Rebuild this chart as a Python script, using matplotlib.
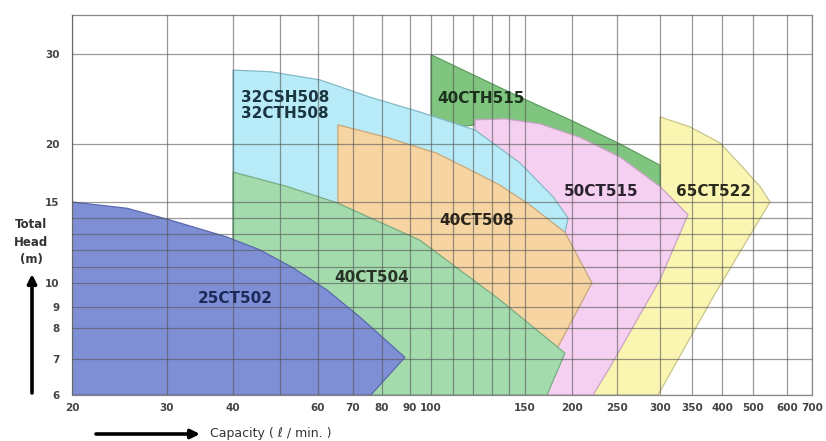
import numpy as np
import matplotlib
matplotlib.use("Agg")
import matplotlib.pyplot as plt

# ---------------- data ----------------
# 25CT502
Q_25CT502 = [20, 25.3, 30.4, 39.0, 45.5, 53.2, 62.4, 72.3, 88.1, 76.0, 20]
H_25CT502 = [15, 14.6, 13.87, 12.8, 12.0, 10.95, 9.7, 8.5, 7.05, 6, 6]
# 40CT504
Q_40CT504 = [40, 51.7, 65.2, 94.6, 134.7, 191.6, 171.6, 40]
H_40CT504 = [17.4, 16.2, 14.95, 12.6, 9.28, 7.18, 6, 6]
# 32CSH508 / 32CTH508
Q_32CSH508 = [40, 47.7, 60.5, 75.7, 94.6, 120.9, 146.8, 178, 195.2, 191.6, 185.9, 146.8, 40]
H_32CSH508 = [27.9, 27.7, 26.7, 24.7, 23.1, 21.3, 18.2, 15.4, 14.0, 13.1, 9.28, 6, 6]
# 40CT508
Q_40CT508 = [65.5, 81.7, 102.6, 118.3, 134.7, 154.7, 191.6, 220.8, 185.9, 154.7, 65.5]
H_40CT508 = [21.8, 20.6, 19.1, 17.6, 16.3, 14.8, 13.1, 10.0, 7.5, 6, 6]
# 40CTH515
Q_40CTH515 = [100, 118.3, 146.8, 197.5, 253.2, 300, 300, 253.2, 208.1, 164.4, 137.6, 120.9, 100]
H_40CTH515 = [29.9, 27.5, 24.7, 22.3, 20.0, 18.0, 16.2, 18.4, 20.3, 21.6, 22.1, 21.8, 21.3]
# 50CT515
Q_50CT515 = [120.9, 137.6, 164.4, 208.1, 253.2, 300, 343.3, 300, 241.4, 222, 120.9]
H_50CT515 = [22.3, 22.4, 21.9, 20.6, 18.75, 16.2, 14.2, 10.2, 6.76, 6, 6]
# 65CT522
Q_65CT522 = [300, 346.6, 396.4, 465.2, 519.1, 547.7, 478.9, 384.4, 297.5, 200, 300]
H_65CT522 = [22.6, 21.6, 20.1, 17.8, 16.2, 15.0, 12.6, 9.4, 6, 6, 16.2]

LABELS = ["25CT502", "40CT504", "40CT508", "32CSH508\n32CTH508", "40CTH515", "50CT515", "65CT522"]
LABEL_Q = [40.4, 76.4, 121.9, 51.2, 124.1, 230.9, 384.4]
LABEL_H = [9.36, 10.36, 13.87, 23.8, 24.5, 15.8, 15.8]

X_TICKS = [20, 30, 40, 60, 70, 80, 90, 100, 150, 200, 250, 300, 350, 400, 500, 600, 700]
X_MINOR = [50, 110, 120, 130, 140]
Y_TICKS = [6, 7, 8, 9, 10, 15, 20, 30]
Y_MINOR = [11, 12, 13, 14]

# ---------------- hand-drawn (piecewise logarithmic) scale ----------------
X_SCALE_VALUES = [20, 30, 40, 50, 60, 70, 80, 90, 100, 150, 200, 250, 300, 350, 400, 500, 600, 700]
X_SCALE_POS = [0, 95, 161, 208, 246, 281, 310, 338, 359, 453, 500, 545, 588, 620, 650, 681, 715, 740]
Y_SCALE_VALUES = [6, 7, 8, 9, 10, 11, 12, 13, 14, 15, 20, 30, 35.8]
Y_SCALE_POS = [0, 36, 67, 88, 112, 128, 145, 161, 177, 193, 251, 341, 380]


def make_scale(vals, pos):
    lv = np.log(np.asarray(vals, float))
    p = np.asarray(pos, float)
    s0 = (p[1] - p[0]) / (lv[1] - lv[0])
    s1 = (p[-1] - p[-2]) / (lv[-1] - lv[-2])

    def fwd(v):
        v = np.asarray(v, float)
        l = np.log(np.clip(v, 1e-9, None))
        out = np.interp(l, lv, p)
        out = np.where(l < lv[0], p[0] + (l - lv[0]) * s0, out)
        out = np.where(l > lv[-1], p[-1] + (l - lv[-1]) * s1, out)
        return out

    def inv(q):
        q = np.asarray(q, float)
        out = np.interp(q, p, lv)
        out = np.where(q < p[0], lv[0] + (q - p[0]) / s0, out)
        out = np.where(q > p[-1], lv[-1] + (q - p[-1]) / s1, out)
        return np.exp(out)

    return fwd, inv


W, H = 826, 441
fig = plt.figure(figsize=(W / 100, H / 100), dpi=100)
ax = fig.add_axes([72 / W, (H - 395) / H, 740 / W, 380 / H])
ax.set_xscale("function", functions=make_scale(X_SCALE_VALUES, X_SCALE_POS))
ax.set_yscale("function", functions=make_scale(Y_SCALE_VALUES, Y_SCALE_POS))
ax.set_xlim(20, 700)
ax.set_ylim(6, 35.8)

regions = [
    (Q_65CT522, H_65CT522, "#faf6b2", "#c9c48a"),
    (Q_40CTH515, H_40CTH515, "#7fc57f", "#5f9f60"),
    (Q_50CT515, H_50CT515, "#f5d0f0", "#c9a3c5"),
    (Q_32CSH508, H_32CSH508, "#b7ebf8", "#86b9c6"),
    (Q_40CT508, H_40CT508, "#f7d5a3", "#c7a77a"),
    (Q_40CT504, H_40CT504, "#a4dbad", "#79ad83"),
    (Q_25CT502, H_25CT502, "#7e8fd5", "#5a6aad"),
]
for i, (q, h, fc, ec) in enumerate(regions):
    ax.fill(q, h, facecolor=fc, edgecolor=ec, linewidth=0.9, zorder=1 + i * 0.01)

label_colors = ["#1c2858", "#263226", "#2b2619", "#1b3540", "#1b311c", "#2b2330", "#2b2a1e"]
for txt, q, h, c in zip(LABELS, LABEL_Q, LABEL_H, label_colors):
    ax.text(q, h, txt, ha="center", va="center", fontsize=11, fontweight="bold",
            color=c, family="DejaVu Sans", zorder=5, linespacing=1.1)

ax.set_xticks(X_TICKS, [str(v) for v in X_TICKS])
ax.set_xticks(X_MINOR, minor=True)
ax.set_yticks(Y_TICKS, [str(v) for v in Y_TICKS])
ax.set_yticks(Y_MINOR, minor=True)
ax.xaxis.set_minor_formatter(matplotlib.ticker.NullFormatter())
ax.yaxis.set_minor_formatter(matplotlib.ticker.NullFormatter())
ax.tick_params(which="both", length=0)
ax.tick_params(axis="x", pad=6, labelsize=7.5, labelcolor="#444444")
ax.tick_params(axis="y", pad=9, labelsize=7.5, labelcolor="#444444")
for lab in ax.get_xticklabels() + ax.get_yticklabels():
    lab.set_fontweight("bold")

ax.set_axisbelow(False)
ax.grid(True, which="both", color="#555555", alpha=0.6, linewidth=0.9, zorder=3)
for s in ax.spines.values():
    s.set_color("#888888")
    s.set_linewidth(0.9)

# y-axis title and arrow
fig.text(31 / W, 1 - 242 / H, "Total\nHead\n(m)", ha="center", va="center", fontsize=8.5,
         fontweight="bold", color="#333333", linespacing=1.45)
ax.annotate("", xy=(32, H - 274), xytext=(32, H - 393), xycoords="figure pixels",
            textcoords="figure pixels",
            arrowprops=dict(arrowstyle="-|>", lw=2.6, color="black", mutation_scale=13,
                            shrinkA=0, shrinkB=0), annotation_clip=False)
# x-axis title and arrow
ax.annotate("", xy=(200, H - 434), xytext=(96, H - 434), xycoords="figure pixels",
            textcoords="figure pixels",
            arrowprops=dict(arrowstyle="-|>", lw=2.6, color="black", mutation_scale=13,
                            shrinkA=0, shrinkB=0), annotation_clip=False)
fig.text(210 / W, 1 - 433 / H, "Capacity ( \u2113 / min. )", ha="left", va="center",
         fontsize=9, color="#333333")

fig.savefig("out.png", dpi=100)
